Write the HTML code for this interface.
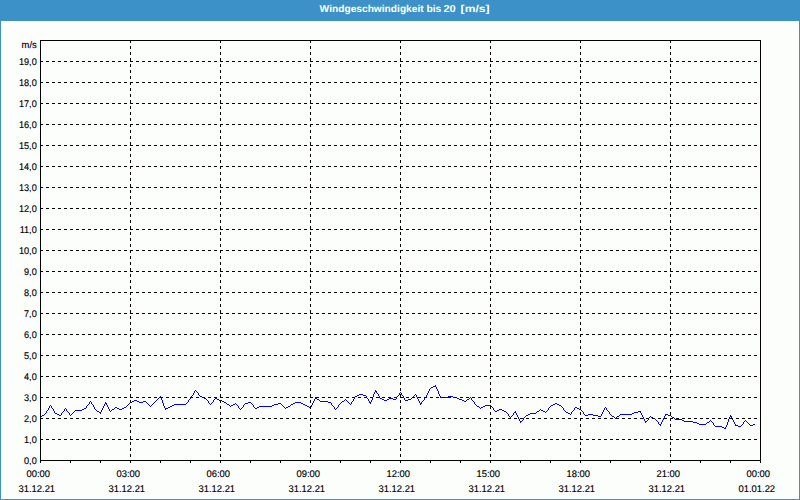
<!DOCTYPE html>
<html><head><meta charset="utf-8"><title>Windgeschwindigkeit bis 20 [m/s]</title>
<style>
html,body{margin:0;padding:0;}
body{width:800px;height:500px;overflow:hidden;background:#fcfefb;font-family:"Liberation Sans",sans-serif;position:relative;}
#hdr{position:absolute;left:0;top:0;width:800px;height:20px;background:#3c91c8;}
#frame{position:absolute;left:0;top:20px;width:798px;height:478px;border:1px solid #3c91c8;background:#fcfefb;}
#frame:before{content:"";position:absolute;left:0;top:0;right:0;bottom:0;border:1px solid #fff;}
svg{position:absolute;left:0;top:0;}
text{font-family:"Liberation Sans",sans-serif;font-size:9.7px;fill:#000;stroke:#000;stroke-width:0.15;text-rendering:geometricPrecision;}
text.t{font-size:10px;font-weight:bold;fill:#fff;stroke:none;}
</style></head><body>
<div id="hdr"></div>
<div id="frame"></div>
<svg width="800" height="500" viewBox="0 0 800 500">

<text class="t" transform="translate(319.6 12) scale(1.019 1)">Windgeschwindigkeit</text>
<text class="t" transform="translate(426.4 12) scale(1.027 1)">bis</text>
<text class="t" transform="translate(443.4 12) scale(1.107 1)">20</text>
<text class="t" transform="translate(460.6 12) scale(1.21 1)">[m/s]</text>
<path shape-rendering="crispEdges" fill="#0000ff" d="M435 385h1v1h-1zM433 386h3v1h-3zM431 387h2v1h-2zM436 387h1v1h-1zM430 388h1v1h-1zM436 388h1v1h-1zM429 389h1v1h-1zM437 389h1v1h-1zM195 390h1v1h-1zM375 390h1v1h-1zM429 390h1v1h-1zM437 390h1v1h-1zM194 391h1v1h-1zM196 391h1v1h-1zM375 391h2v1h-2zM428 391h1v1h-1zM438 391h1v1h-1zM194 392h1v1h-1zM197 392h1v1h-1zM374 392h1v1h-1zM376 392h1v1h-1zM400 392h1v1h-1zM428 392h1v1h-1zM438 392h1v1h-1zM193 393h1v1h-1zM198 393h1v1h-1zM374 393h1v1h-1zM377 393h1v1h-1zM399 393h1v1h-1zM401 393h1v1h-1zM427 393h1v1h-1zM438 393h1v1h-1zM193 394h1v1h-1zM198 394h1v1h-1zM359 394h4v1h-4zM373 394h1v1h-1zM378 394h1v1h-1zM399 394h1v1h-1zM401 394h1v1h-1zM415 394h1v1h-1zM427 394h1v1h-1zM439 394h1v1h-1zM192 395h1v1h-1zM199 395h1v1h-1zM357 395h2v1h-2zM363 395h3v1h-3zM373 395h1v1h-1zM378 395h1v1h-1zM398 395h1v1h-1zM402 395h1v1h-1zM414 395h1v1h-1zM416 395h1v1h-1zM426 395h1v1h-1zM439 395h1v1h-1zM160 396h1v1h-1zM191 396h1v1h-1zM200 396h2v1h-2zM355 396h2v1h-2zM366 396h1v1h-1zM373 396h1v1h-1zM379 396h1v1h-1zM397 396h1v1h-1zM403 396h1v1h-1zM413 396h1v1h-1zM416 396h1v1h-1zM426 396h1v1h-1zM440 396h1v1h-1zM448 396h5v1h-5zM159 397h2v1h-2zM191 397h1v1h-1zM202 397h2v1h-2zM315 397h1v1h-1zM354 397h1v1h-1zM366 397h1v1h-1zM372 397h1v1h-1zM379 397h1v1h-1zM396 397h1v1h-1zM403 397h1v1h-1zM412 397h1v1h-1zM417 397h1v1h-1zM425 397h1v1h-1zM440 397h8v1h-8zM453 397h4v1h-4zM470 397h1v1h-1zM158 398h1v1h-1zM161 398h1v1h-1zM190 398h1v1h-1zM204 398h2v1h-2zM215 398h2v1h-2zM315 398h2v1h-2zM354 398h1v1h-1zM367 398h1v1h-1zM372 398h1v1h-1zM380 398h2v1h-2zM389 398h4v1h-4zM396 398h1v1h-1zM404 398h1v1h-1zM411 398h1v1h-1zM417 398h1v1h-1zM424 398h1v1h-1zM457 398h2v1h-2zM469 398h1v1h-1zM471 398h1v1h-1zM157 399h1v1h-1zM161 399h1v1h-1zM189 399h1v1h-1zM206 399h1v1h-1zM214 399h1v1h-1zM217 399h2v1h-2zM314 399h1v1h-1zM317 399h2v1h-2zM345 399h1v1h-1zM353 399h1v1h-1zM368 399h1v1h-1zM372 399h1v1h-1zM382 399h2v1h-2zM387 399h2v1h-2zM393 399h3v1h-3zM404 399h1v1h-1zM408 399h3v1h-3zM418 399h1v1h-1zM424 399h1v1h-1zM459 399h3v1h-3zM467 399h2v1h-2zM471 399h1v1h-1zM134 400h3v1h-3zM156 400h1v1h-1zM162 400h1v1h-1zM188 400h1v1h-1zM207 400h1v1h-1zM213 400h1v1h-1zM219 400h3v1h-3zM314 400h1v1h-1zM319 400h1v1h-1zM344 400h1v1h-1zM346 400h1v1h-1zM353 400h1v1h-1zM368 400h1v1h-1zM371 400h1v1h-1zM384 400h3v1h-3zM405 400h3v1h-3zM418 400h1v1h-1zM423 400h1v1h-1zM462 400h2v1h-2zM466 400h1v1h-1zM472 400h1v1h-1zM90 401h1v1h-1zM132 401h2v1h-2zM137 401h2v1h-2zM143 401h3v1h-3zM155 401h1v1h-1zM162 401h1v1h-1zM188 401h1v1h-1zM208 401h1v1h-1zM213 401h1v1h-1zM222 401h2v1h-2zM313 401h1v1h-1zM320 401h8v1h-8zM342 401h2v1h-2zM347 401h1v1h-1zM352 401h1v1h-1zM369 401h1v1h-1zM371 401h1v1h-1zM419 401h1v1h-1zM422 401h1v1h-1zM464 401h2v1h-2zM473 401h1v1h-1zM89 402h1v1h-1zM91 402h1v1h-1zM105 402h1v1h-1zM130 402h2v1h-2zM139 402h4v1h-4zM146 402h1v1h-1zM154 402h1v1h-1zM162 402h1v1h-1zM187 402h1v1h-1zM208 402h1v1h-1zM212 402h1v1h-1zM224 402h2v1h-2zM248 402h3v1h-3zM295 402h6v1h-6zM313 402h1v1h-1zM328 402h3v1h-3zM341 402h1v1h-1zM348 402h1v1h-1zM351 402h1v1h-1zM369 402h2v1h-2zM419 402h1v1h-1zM421 402h1v1h-1zM474 402h1v1h-1zM89 403h1v1h-1zM91 403h1v1h-1zM105 403h2v1h-2zM129 403h1v1h-1zM147 403h1v1h-1zM153 403h1v1h-1zM163 403h1v1h-1zM186 403h1v1h-1zM209 403h1v1h-1zM211 403h1v1h-1zM226 403h1v1h-1zM235 403h1v1h-1zM245 403h3v1h-3zM251 403h1v1h-1zM278 403h3v1h-3zM293 403h2v1h-2zM301 403h2v1h-2zM312 403h1v1h-1zM331 403h1v1h-1zM340 403h1v1h-1zM349 403h1v1h-1zM351 403h1v1h-1zM370 403h1v1h-1zM420 403h2v1h-2zM474 403h1v1h-1zM555 403h2v1h-2zM88 404h1v1h-1zM92 404h1v1h-1zM104 404h1v1h-1zM106 404h1v1h-1zM128 404h1v1h-1zM148 404h1v1h-1zM152 404h1v1h-1zM163 404h1v1h-1zM174 404h12v1h-12zM210 404h1v1h-1zM227 404h2v1h-2zM233 404h2v1h-2zM236 404h1v1h-1zM244 404h1v1h-1zM252 404h1v1h-1zM274 404h4v1h-4zM281 404h1v1h-1zM291 404h2v1h-2zM303 404h2v1h-2zM312 404h1v1h-1zM331 404h1v1h-1zM339 404h1v1h-1zM350 404h1v1h-1zM420 404h1v1h-1zM475 404h1v1h-1zM553 404h2v1h-2zM557 404h2v1h-2zM50 405h1v1h-1zM87 405h1v1h-1zM93 405h1v1h-1zM104 405h1v1h-1zM107 405h1v1h-1zM127 405h1v1h-1zM149 405h1v1h-1zM151 405h1v1h-1zM163 405h1v1h-1zM172 405h2v1h-2zM229 405h1v1h-1zM231 405h2v1h-2zM237 405h1v1h-1zM243 405h1v1h-1zM253 405h1v1h-1zM272 405h2v1h-2zM282 405h1v1h-1zM290 405h1v1h-1zM305 405h2v1h-2zM311 405h1v1h-1zM332 405h1v1h-1zM338 405h1v1h-1zM476 405h1v1h-1zM485 405h6v1h-6zM551 405h2v1h-2zM559 405h2v1h-2zM49 406h1v1h-1zM51 406h1v1h-1zM86 406h1v1h-1zM93 406h1v1h-1zM103 406h1v1h-1zM107 406h1v1h-1zM126 406h1v1h-1zM150 406h1v1h-1zM164 406h1v1h-1zM170 406h2v1h-2zM230 406h1v1h-1zM238 406h1v1h-1zM243 406h1v1h-1zM253 406h1v1h-1zM259 406h13v1h-13zM283 406h1v1h-1zM288 406h2v1h-2zM307 406h2v1h-2zM311 406h1v1h-1zM333 406h1v1h-1zM338 406h1v1h-1zM477 406h2v1h-2zM483 406h2v1h-2zM491 406h1v1h-1zM550 406h1v1h-1zM561 406h1v1h-1zM49 407h1v1h-1zM51 407h1v1h-1zM86 407h1v1h-1zM94 407h1v1h-1zM103 407h1v1h-1zM108 407h1v1h-1zM115 407h2v1h-2zM124 407h2v1h-2zM164 407h1v1h-1zM168 407h2v1h-2zM238 407h1v1h-1zM242 407h1v1h-1zM254 407h1v1h-1zM257 407h2v1h-2zM284 407h1v1h-1zM286 407h2v1h-2zM309 407h2v1h-2zM334 407h1v1h-1zM337 407h1v1h-1zM479 407h1v1h-1zM481 407h2v1h-2zM492 407h1v1h-1zM549 407h1v1h-1zM562 407h1v1h-1zM575 407h2v1h-2zM605 407h1v1h-1zM48 408h1v1h-1zM52 408h1v1h-1zM65 408h1v1h-1zM84 408h2v1h-2zM94 408h1v1h-1zM102 408h1v1h-1zM108 408h1v1h-1zM114 408h1v1h-1zM117 408h2v1h-2zM122 408h2v1h-2zM165 408h3v1h-3zM239 408h1v1h-1zM241 408h1v1h-1zM255 408h2v1h-2zM285 408h1v1h-1zM334 408h1v1h-1zM336 408h1v1h-1zM480 408h1v1h-1zM493 408h1v1h-1zM548 408h1v1h-1zM563 408h1v1h-1zM574 408h1v1h-1zM577 408h2v1h-2zM604 408h1v1h-1zM606 408h1v1h-1zM48 409h1v1h-1zM53 409h1v1h-1zM64 409h1v1h-1zM66 409h1v1h-1zM82 409h2v1h-2zM95 409h1v1h-1zM102 409h1v1h-1zM109 409h1v1h-1zM112 409h2v1h-2zM119 409h3v1h-3zM165 409h1v1h-1zM240 409h1v1h-1zM335 409h1v1h-1zM493 409h1v1h-1zM499 409h3v1h-3zM540 409h1v1h-1zM548 409h1v1h-1zM563 409h1v1h-1zM574 409h1v1h-1zM579 409h2v1h-2zM604 409h1v1h-1zM606 409h1v1h-1zM47 410h1v1h-1zM53 410h1v1h-1zM64 410h1v1h-1zM66 410h1v1h-1zM75 410h7v1h-7zM96 410h1v1h-1zM101 410h1v1h-1zM109 410h1v1h-1zM111 410h1v1h-1zM494 410h1v1h-1zM497 410h2v1h-2zM502 410h2v1h-2zM539 410h1v1h-1zM541 410h2v1h-2zM547 410h1v1h-1zM564 410h1v1h-1zM573 410h1v1h-1zM581 410h1v1h-1zM603 410h1v1h-1zM607 410h1v1h-1zM46 411h1v1h-1zM54 411h1v1h-1zM63 411h1v1h-1zM67 411h1v1h-1zM74 411h1v1h-1zM97 411h2v1h-2zM101 411h1v1h-1zM110 411h1v1h-1zM495 411h2v1h-2zM504 411h2v1h-2zM515 411h1v1h-1zM537 411h2v1h-2zM543 411h2v1h-2zM546 411h1v1h-1zM565 411h1v1h-1zM572 411h1v1h-1zM582 411h1v1h-1zM603 411h1v1h-1zM608 411h1v1h-1zM638 411h3v1h-3zM46 412h1v1h-1zM54 412h1v1h-1zM62 412h1v1h-1zM68 412h1v1h-1zM73 412h1v1h-1zM99 412h2v1h-2zM506 412h1v1h-1zM514 412h2v1h-2zM536 412h1v1h-1zM545 412h1v1h-1zM566 412h2v1h-2zM571 412h1v1h-1zM583 412h1v1h-1zM602 412h1v1h-1zM609 412h1v1h-1zM634 412h4v1h-4zM640 412h1v1h-1zM45 413h1v1h-1zM55 413h2v1h-2zM61 413h1v1h-1zM69 413h1v1h-1zM72 413h1v1h-1zM100 413h1v1h-1zM507 413h1v1h-1zM513 413h1v1h-1zM516 413h1v1h-1zM530 413h6v1h-6zM568 413h2v1h-2zM571 413h1v1h-1zM583 413h1v1h-1zM602 413h1v1h-1zM609 413h1v1h-1zM632 413h2v1h-2zM641 413h1v1h-1zM44 414h1v1h-1zM57 414h2v1h-2zM61 414h1v1h-1zM69 414h1v1h-1zM71 414h1v1h-1zM508 414h1v1h-1zM513 414h1v1h-1zM516 414h1v1h-1zM528 414h2v1h-2zM570 414h1v1h-1zM584 414h1v1h-1zM588 414h5v1h-5zM601 414h1v1h-1zM610 414h1v1h-1zM620 414h12v1h-12zM641 414h1v1h-1zM665 414h3v1h-3zM42 415h2v1h-2zM59 415h2v1h-2zM70 415h1v1h-1zM508 415h1v1h-1zM512 415h1v1h-1zM517 415h1v1h-1zM526 415h2v1h-2zM585 415h3v1h-3zM593 415h5v1h-5zM601 415h1v1h-1zM611 415h1v1h-1zM619 415h1v1h-1zM642 415h1v1h-1zM665 415h1v1h-1zM668 415h3v1h-3zM730 415h1v1h-1zM41 416h1v1h-1zM509 416h1v1h-1zM511 416h1v1h-1zM517 416h1v1h-1zM525 416h1v1h-1zM598 416h3v1h-3zM612 416h2v1h-2zM617 416h2v1h-2zM642 416h1v1h-1zM650 416h1v1h-1zM664 416h1v1h-1zM671 416h1v1h-1zM730 416h2v1h-2zM40 417h1v1h-1zM510 417h1v1h-1zM518 417h1v1h-1zM524 417h1v1h-1zM614 417h1v1h-1zM616 417h1v1h-1zM643 417h1v1h-1zM649 417h1v1h-1zM651 417h2v1h-2zM664 417h1v1h-1zM672 417h2v1h-2zM729 417h1v1h-1zM731 417h1v1h-1zM518 418h1v1h-1zM523 418h1v1h-1zM615 418h1v1h-1zM643 418h1v1h-1zM648 418h1v1h-1zM653 418h2v1h-2zM663 418h1v1h-1zM674 418h1v1h-1zM729 418h1v1h-1zM732 418h1v1h-1zM519 419h1v1h-1zM523 419h1v1h-1zM644 419h1v1h-1zM648 419h1v1h-1zM655 419h1v1h-1zM663 419h1v1h-1zM675 419h7v1h-7zM728 419h1v1h-1zM732 419h1v1h-1zM519 420h1v1h-1zM522 420h1v1h-1zM644 420h1v1h-1zM647 420h1v1h-1zM656 420h1v1h-1zM662 420h1v1h-1zM682 420h2v1h-2zM710 420h1v1h-1zM728 420h1v1h-1zM733 420h1v1h-1zM745 420h1v1h-1zM520 421h2v1h-2zM645 421h2v1h-2zM657 421h1v1h-1zM662 421h1v1h-1zM684 421h9v1h-9zM709 421h1v1h-1zM711 421h1v1h-1zM728 421h1v1h-1zM733 421h1v1h-1zM744 421h1v1h-1zM746 421h1v1h-1zM520 422h1v1h-1zM645 422h1v1h-1zM658 422h1v1h-1zM661 422h1v1h-1zM693 422h4v1h-4zM707 422h2v1h-2zM712 422h1v1h-1zM727 422h1v1h-1zM734 422h1v1h-1zM743 422h1v1h-1zM747 422h1v1h-1zM658 423h1v1h-1zM661 423h1v1h-1zM697 423h2v1h-2zM706 423h1v1h-1zM713 423h1v1h-1zM727 423h1v1h-1zM734 423h1v1h-1zM743 423h1v1h-1zM748 423h1v1h-1zM659 424h2v1h-2zM699 424h7v1h-7zM713 424h1v1h-1zM727 424h1v1h-1zM735 424h1v1h-1zM742 424h1v1h-1zM749 424h1v1h-1zM753 424h2v1h-2zM660 425h1v1h-1zM714 425h1v1h-1zM726 425h1v1h-1zM735 425h3v1h-3zM741 425h1v1h-1zM750 425h3v1h-3zM715 426h7v1h-7zM726 426h1v1h-1zM738 426h3v1h-3zM722 427h2v1h-2zM725 427h1v1h-1zM724 428h2v1h-2z"/>
<g shape-rendering="crispEdges" stroke="#000" stroke-width="1" fill="none">
<line x1="40" y1="439.5" x2="760" y2="439.5" stroke-dasharray="3,3"/>
<line x1="40" y1="418.5" x2="760" y2="418.5" stroke-dasharray="3,3"/>
<line x1="40" y1="397.5" x2="760" y2="397.5" stroke-dasharray="3,3"/>
<line x1="40" y1="376.5" x2="760" y2="376.5" stroke-dasharray="3,3"/>
<line x1="40" y1="355.5" x2="760" y2="355.5" stroke-dasharray="3,3"/>
<line x1="40" y1="334.5" x2="760" y2="334.5" stroke-dasharray="3,3"/>
<line x1="40" y1="313.5" x2="760" y2="313.5" stroke-dasharray="3,3"/>
<line x1="40" y1="292.5" x2="760" y2="292.5" stroke-dasharray="3,3"/>
<line x1="40" y1="271.5" x2="760" y2="271.5" stroke-dasharray="3,3"/>
<line x1="40" y1="250.5" x2="760" y2="250.5" stroke-dasharray="3,3"/>
<line x1="40" y1="229.5" x2="760" y2="229.5" stroke-dasharray="3,3"/>
<line x1="40" y1="208.5" x2="760" y2="208.5" stroke-dasharray="3,3"/>
<line x1="40" y1="187.5" x2="760" y2="187.5" stroke-dasharray="3,3"/>
<line x1="40" y1="166.5" x2="760" y2="166.5" stroke-dasharray="3,3"/>
<line x1="40" y1="145.5" x2="760" y2="145.5" stroke-dasharray="3,3"/>
<line x1="40" y1="124.5" x2="760" y2="124.5" stroke-dasharray="3,3"/>
<line x1="40" y1="103.5" x2="760" y2="103.5" stroke-dasharray="3,3"/>
<line x1="40" y1="82.5" x2="760" y2="82.5" stroke-dasharray="3,3"/>
<line x1="40" y1="61.5" x2="760" y2="61.5" stroke-dasharray="3,3"/>
<line x1="130.5" y1="40" x2="130.5" y2="460" stroke-dasharray="3,3"/>
<line x1="220.5" y1="40" x2="220.5" y2="460" stroke-dasharray="3,3"/>
<line x1="310.5" y1="40" x2="310.5" y2="460" stroke-dasharray="3,3"/>
<line x1="400.5" y1="40" x2="400.5" y2="460" stroke-dasharray="3,3"/>
<line x1="490.5" y1="40" x2="490.5" y2="460" stroke-dasharray="3,3"/>
<line x1="580.5" y1="40" x2="580.5" y2="460" stroke-dasharray="3,3"/>
<line x1="670.5" y1="40" x2="670.5" y2="460" stroke-dasharray="3,3"/>
</g>
<g shape-rendering="crispEdges" stroke="#000" stroke-width="1" fill="none">
<rect x="40.5" y="40.5" width="720" height="420"/>
<line x1="40.5" y1="461" x2="40.5" y2="463"/>
<line x1="70.5" y1="461" x2="70.5" y2="463"/>
<line x1="100.5" y1="461" x2="100.5" y2="463"/>
<line x1="130.5" y1="461" x2="130.5" y2="463"/>
<line x1="160.5" y1="461" x2="160.5" y2="463"/>
<line x1="190.5" y1="461" x2="190.5" y2="463"/>
<line x1="220.5" y1="461" x2="220.5" y2="463"/>
<line x1="250.5" y1="461" x2="250.5" y2="463"/>
<line x1="280.5" y1="461" x2="280.5" y2="463"/>
<line x1="310.5" y1="461" x2="310.5" y2="463"/>
<line x1="340.5" y1="461" x2="340.5" y2="463"/>
<line x1="370.5" y1="461" x2="370.5" y2="463"/>
<line x1="400.5" y1="461" x2="400.5" y2="463"/>
<line x1="430.5" y1="461" x2="430.5" y2="463"/>
<line x1="460.5" y1="461" x2="460.5" y2="463"/>
<line x1="490.5" y1="461" x2="490.5" y2="463"/>
<line x1="520.5" y1="461" x2="520.5" y2="463"/>
<line x1="550.5" y1="461" x2="550.5" y2="463"/>
<line x1="580.5" y1="461" x2="580.5" y2="463"/>
<line x1="610.5" y1="461" x2="610.5" y2="463"/>
<line x1="640.5" y1="461" x2="640.5" y2="463"/>
<line x1="670.5" y1="461" x2="670.5" y2="463"/>
<line x1="700.5" y1="461" x2="700.5" y2="463"/>
<line x1="730.5" y1="461" x2="730.5" y2="463"/>
<line x1="760.5" y1="461" x2="760.5" y2="463"/>
</g>
<text transform="translate(36.70 48) scale(0.97 1)" text-anchor="end">m/s</text>
<text transform="translate(36.70 464) scale(0.94 1)" text-anchor="end">0,0</text>
<text transform="translate(36.70 443) scale(0.94 1)" text-anchor="end">1,0</text>
<text transform="translate(36.70 422) scale(0.94 1)" text-anchor="end">2,0</text>
<text transform="translate(36.70 401) scale(0.94 1)" text-anchor="end">3,0</text>
<text transform="translate(36.70 380) scale(0.94 1)" text-anchor="end">4,0</text>
<text transform="translate(36.70 359) scale(0.94 1)" text-anchor="end">5,0</text>
<text transform="translate(36.70 338) scale(0.94 1)" text-anchor="end">6,0</text>
<text transform="translate(36.70 317) scale(0.94 1)" text-anchor="end">7,0</text>
<text transform="translate(36.70 296) scale(0.94 1)" text-anchor="end">8,0</text>
<text transform="translate(36.70 275) scale(0.94 1)" text-anchor="end">9,0</text>
<text transform="translate(36.70 254) scale(0.94 1)" text-anchor="end">10,0</text>
<text transform="translate(36.70 233) scale(0.94 1)" text-anchor="end">11,0</text>
<text transform="translate(36.70 212) scale(0.94 1)" text-anchor="end">12,0</text>
<text transform="translate(36.70 191) scale(0.94 1)" text-anchor="end">13,0</text>
<text transform="translate(36.70 170) scale(0.94 1)" text-anchor="end">14,0</text>
<text transform="translate(36.70 149) scale(0.94 1)" text-anchor="end">15,0</text>
<text transform="translate(36.70 128) scale(0.94 1)" text-anchor="end">16,0</text>
<text transform="translate(36.70 107) scale(0.94 1)" text-anchor="end">17,0</text>
<text transform="translate(36.70 86) scale(0.94 1)" text-anchor="end">18,0</text>
<text transform="translate(36.70 65) scale(0.94 1)" text-anchor="end">19,0</text>
<text transform="translate(38.30 477) scale(0.97 1)" text-anchor="middle">00:00</text>
<text transform="translate(36.80 492) scale(0.97 1)" text-anchor="middle">31.12.21</text>
<text transform="translate(128.30 477) scale(0.97 1)" text-anchor="middle">03:00</text>
<text transform="translate(126.80 492) scale(0.97 1)" text-anchor="middle">31.12.21</text>
<text transform="translate(218.30 477) scale(0.97 1)" text-anchor="middle">06:00</text>
<text transform="translate(216.80 492) scale(0.97 1)" text-anchor="middle">31.12.21</text>
<text transform="translate(308.30 477) scale(0.97 1)" text-anchor="middle">09:00</text>
<text transform="translate(306.80 492) scale(0.97 1)" text-anchor="middle">31.12.21</text>
<text transform="translate(398.30 477) scale(0.97 1)" text-anchor="middle">12:00</text>
<text transform="translate(396.80 492) scale(0.97 1)" text-anchor="middle">31.12.21</text>
<text transform="translate(488.30 477) scale(0.97 1)" text-anchor="middle">15:00</text>
<text transform="translate(486.80 492) scale(0.97 1)" text-anchor="middle">31.12.21</text>
<text transform="translate(578.30 477) scale(0.97 1)" text-anchor="middle">18:00</text>
<text transform="translate(576.80 492) scale(0.97 1)" text-anchor="middle">31.12.21</text>
<text transform="translate(668.30 477) scale(0.97 1)" text-anchor="middle">21:00</text>
<text transform="translate(666.80 492) scale(0.97 1)" text-anchor="middle">31.12.21</text>
<text transform="translate(758.30 477) scale(0.97 1)" text-anchor="middle">00:00</text>
<text transform="translate(756.80 492) scale(0.97 1)" text-anchor="middle">01.01.22</text>
</svg></body></html>
